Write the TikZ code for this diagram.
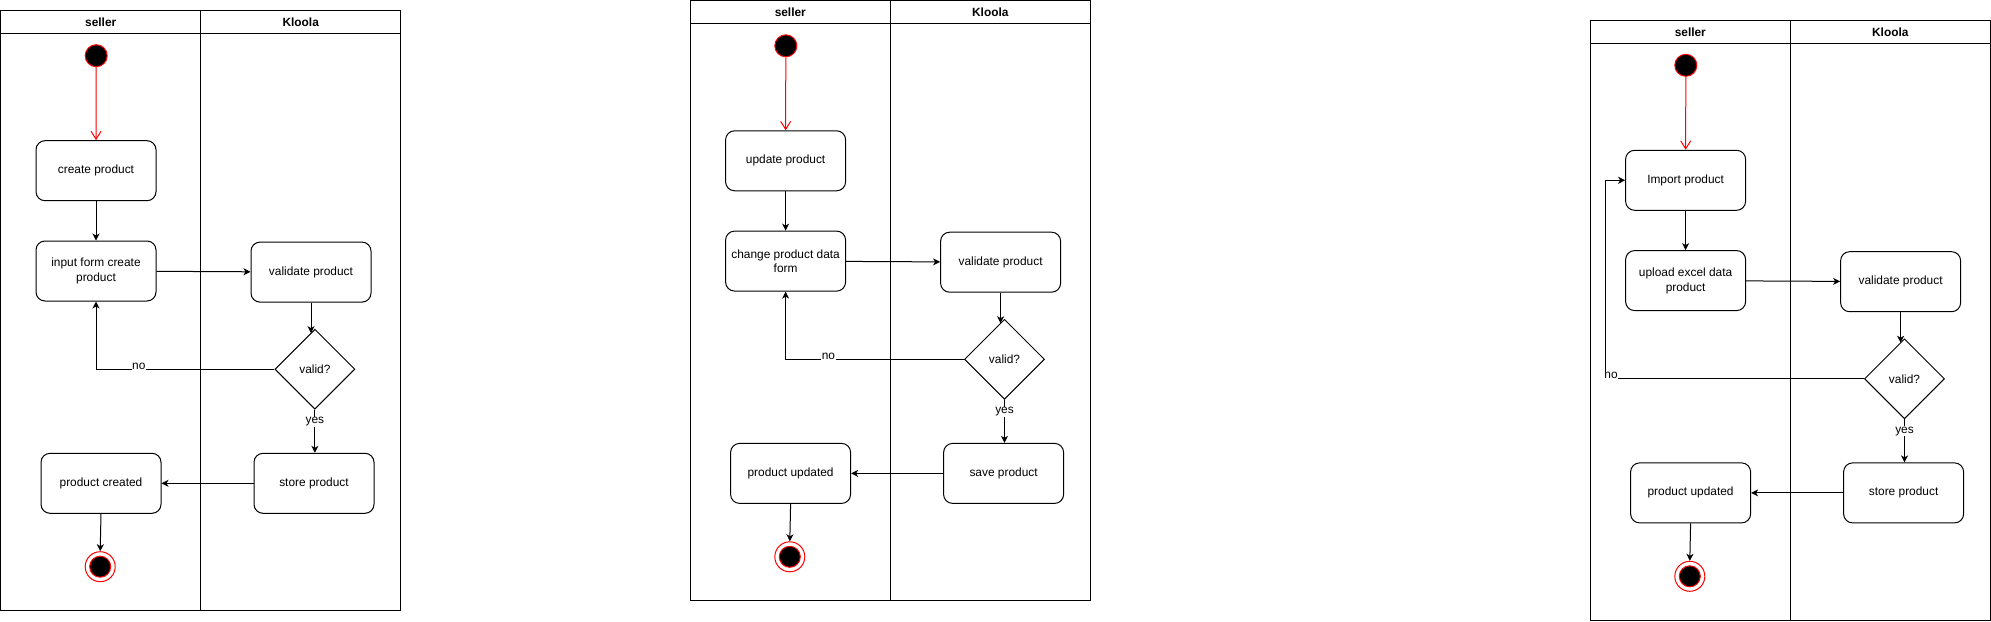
\documentclass[tikz,border=0pt]{standalone}
\usepackage{fontspec}
\setmainfont{Liberation Sans}
\usetikzlibrary{shapes.geometric,arrows.meta}

\begin{document}
\begin{tikzpicture}[x=1pt,y=-1pt,line width=1pt,
    font=\fontsize{11.9}{14.7}\selectfont,
    act/.style={draw,rounded corners=9pt,minimum width=120pt,minimum height=60pt,
      align=center,inner sep=2pt},
    dec/.style={draw,diamond,minimum width=80pt,minimum height=80pt,inner sep=0pt},
    ini/.style={circle,draw=red,fill=black,minimum size=22pt,inner sep=0pt},
    fin/.style={circle,draw=red,fill=white,minimum size=30pt,inner sep=0pt},
    findot/.style={circle,draw=red,fill=black,minimum size=21pt,inner sep=0pt},
    lanehead/.style={font=\fontsize{11.9}{14.7}\selectfont\bfseries},
    lbl/.style={fill=white,inner sep=0.5pt},
    flow/.style={-{Stealth[length=7pt,width=7pt,inset=2pt]}},
    redflow/.style={red,-{Straight Barb[length=8pt,width=10pt]}}]
  \useasboundingbox (0,0) rectangle (1991,621);

  % create product
  \begin{scope}[shift={(0.7,10.7)}]
    \draw (0,0) rectangle (400,600);
    \draw (0,23) -- (400,23);
    \draw (200,0) -- (200,600);
    \node[lanehead] (ah1) at (100,11.5) {seller};
    \node[lanehead] (ah2) at (300,11.5) {Kloola};
    \node[ini] (a1) at (95.5,45) {};
    \node[act] (a2) at (95.3,160) {create product};
    \node[act] (a3) at (95.3,260.3) {input form create\\product};
    \node[act] (a4) at (310.3,261.4) {validate product};
    \node[dec] (a5) at (314.2,358.5) {valid?};
    \node[act] (a6) at (313.3,472.6) {store product};
    \node[act] (a7) at (100.3,472.6) {product created};
    \node[fin] (a8) at (99.5,556) {};
    \node[findot] (a8i) at (a8) {};
    \draw[redflow] (a1) -- (a2);
    \begin{scope}[flow]
      \draw (a2) -- (a3);
      \draw (a3) -- (a4);
      \draw (a4.south) -- (a4.south |- a5.97);
      \draw (a5.west) -| node[lbl,pos=0.38,yshift=3pt] {no} (a3.south);
      \draw (a5.south) -- node[lbl,pos=0.28] {yes} (a5.south |- a6.north);
      \draw (a6) -- (a7);
      \draw (a7.south) -- (a8.north);
    \end{scope}
  \end{scope}

  % update product
  \begin{scope}[shift={(690.3,0.8)}]
    \draw (0,0) rectangle (400,600);
    \draw (0,23) -- (400,23);
    \draw (200,0) -- (200,600);
    \node[lanehead] (bh1) at (100,11.5) {seller};
    \node[lanehead] (bh2) at (300,11.5) {Kloola};
    \node[ini] (b1) at (95.5,45) {};
    \node[act] (b2) at (95.3,160) {update product};
    \node[act] (b3) at (95.3,260.3) {change product data\\form};
    \node[act] (b4) at (310.3,261.4) {validate product};
    \node[dec] (b5) at (314.2,358.5) {valid?};
    \node[act] (b6) at (313.3,472.6) {save product};
    \node[act] (b7) at (100.3,472.6) {product updated};
    \node[fin] (b8) at (99.5,556) {};
    \node[findot] (b8i) at (b8) {};
    \draw[redflow] (b1) -- (b2);
    \begin{scope}[flow]
      \draw (b2) -- (b3);
      \draw (b3) -- (b4);
      \draw (b4.south) -- (b4.south |- b5.97);
      \draw (b5.west) -| node[lbl,pos=0.38,yshift=3pt] {no} (b3.south);
      \draw (b5.south) -- node[lbl,pos=0.28] {yes} (b5.south |- b6.north);
      \draw (b6) -- (b7);
      \draw (b7.south) -- (b8.north);
    \end{scope}
  \end{scope}

  % import product
  \begin{scope}[shift={(1590.3,20.3)}]
    \draw (0,0) rectangle (400,600);
    \draw (0,23) -- (400,23);
    \draw (200,0) -- (200,600);
    \node[lanehead] (ch1) at (100,11.5) {seller};
    \node[lanehead] (ch2) at (300,11.5) {Kloola};
    \node[ini] (c1) at (95.5,45) {};
    \node[act] (c2) at (95.3,160) {Import product};
    \node[act] (c3) at (95.3,260.3) {upload excel data\\product};
    \node[act] (c4) at (310.3,261.4) {validate product};
    \node[dec] (c5) at (314.2,358.5) {valid?};
    \node[act] (c6) at (313.3,472.6) {store product};
    \node[act] (c7) at (100.3,472.6) {product updated};
    \node[fin] (c8) at (99.5,556) {};
    \node[findot] (c8i) at (c8) {};
    \coordinate (cb) at (15.3,358.5);
    \draw[redflow] (c1) -- (c2);
    \begin{scope}[flow]
      \draw (c2) -- (c3);
      \draw (c3) -- (c4);
      \draw (c4.south) -- (c4.south |- c5.97);
      \draw (c5.west) -- (cb) node[lbl,xshift=5.4pt,yshift=3pt] {no} |- (c2.west);
      \draw (c5.south) -- node[lbl,pos=0.28] {yes} (c5.south |- c6.north);
      \draw (c6) -- (c7);
      \draw (c7.south) -- (c8.north);
    \end{scope}
  \end{scope}
\end{tikzpicture}
\end{document}
